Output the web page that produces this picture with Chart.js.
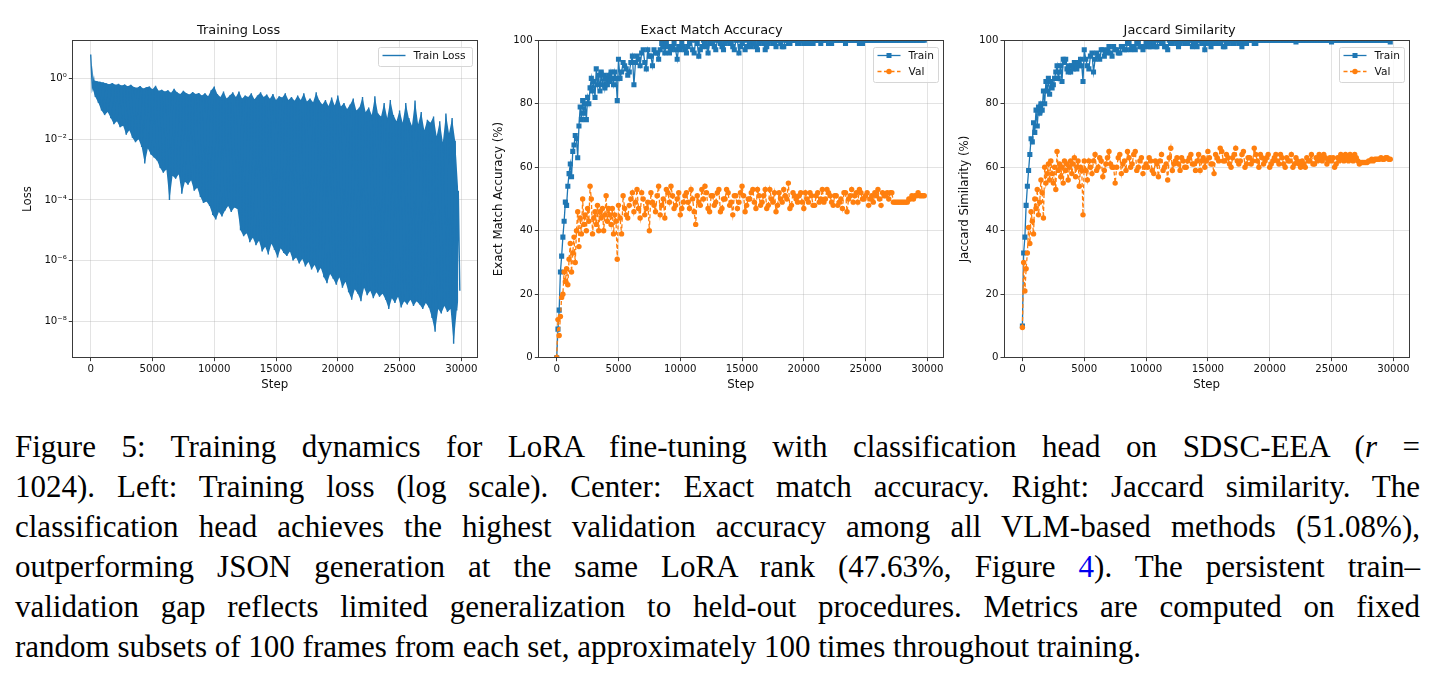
<!DOCTYPE html>
<html>
<head>
<meta charset="utf-8">
<script src="https://cdn.jsdelivr.net/npm/chart.js@4.4.1/dist/chart.umd.min.js"></script>
<style>
  body { margin: 0; width: 1434px; height: 684px; background: #fff; position: relative; overflow: hidden; }
  canvas { position: absolute; }
  #caption { position: absolute; left: 15px; top: 427px; width: 1405px; font-family: "Liberation Serif", serif; font-size: 31px; line-height: 40px; color: #000; }
  #caption .j { text-align: justify; text-align-last: justify; }
  #caption a { color: #0000ee; text-decoration: none; }
</style>
</head>
<body>
<canvas id="lossChart" style="left:0px;top:15px" width="482" height="380"></canvas>
<canvas id="emChart" style="left:480px;top:15px" width="468" height="380"></canvas>
<canvas id="jacChart" style="left:950px;top:15px" width="464" height="380"></canvas>

<div id="caption">
  <div class="j">Figure 5: Training dynamics for LoRA fine-tuning with classification head on SDSC-EEA (<i>r</i> =</div>
  <div class="j">1024). Left: Training loss (log scale). Center: Exact match accuracy. Right: Jaccard similarity. The</div>
  <div class="j">classification head achieves the highest validation accuracy among all VLM-based methods (51.08%),</div>
  <div class="j">outperforming JSON generation at the same LoRA rank (47.63%, Figure <a>4</a>). The persistent train–</div>
  <div class="j">validation gap reflects limited generalization to held-out procedures. Metrics are computed on fixed</div>
  <div>random subsets of 100 frames from each set, approximately 100 times throughout training.</div>
</div>

<script>
const BLUE = "#1f77b4";
const ORANGE = "#ff7f0e";

const stepTicks = [0, 5000, 10000, 15000, 20000, 25000, 30000];
const pctTicks = [0, 20, 40, 60, 80, 100];
const lossTicks = [1e-8, 1e-6, 1e-4, 1e-2, 1];

// training loss, log10 of the upper and lower edge of the noisy band
// (upper edge sampled every 250 steps from 0, lower edge offset by 125)
const lossGap = 250;
const lossHigh = [
  0.80, -0.05, -0.08, -0.10, -0.12, -0.15, -0.18, -0.14, -0.20, -0.17,
  -0.22, -0.19, -0.25, -0.20, -0.27, -0.30, -0.24, -0.32, -0.28, -0.26,
  -0.35, -0.23, -0.40, -0.36, -0.42, -0.38, -0.46, -0.33, -0.45, -0.50,
  -0.40, -0.48, -0.52, -0.44, -0.50, -0.47, -0.55, -0.48, -0.58, -0.38,
  -0.26, -0.50, -0.60, -0.42, -0.65, -0.55, -0.45, -0.60, -0.42, -0.65,
  -0.55, -0.60, -0.48, -0.68, -0.55, -0.45, -0.60, -0.52, -0.66, -0.50,
  -0.70, -0.58, -0.62, -0.48, -0.70, -0.60, -0.73, -0.55, -0.70, -0.48,
  -0.75, -0.65, -0.78, -0.45, -0.72, -0.85, -0.70, -0.90, -0.62, -0.88,
  -0.55, -0.92, -0.80, -1.00, -0.85, -0.65, -1.05, -0.95, -0.60, -1.10,
  -0.95, -1.20, -0.58, -1.15, -1.25, -0.80, -1.30, -0.70, -1.20, -1.40,
  -1.05, -1.45, -0.80, -1.30, -1.55, -0.72, -1.50, -1.10, -1.70, -1.35,
  -1.45, -1.25, -1.90, -1.40, -2.10, -1.15, -1.80, -1.30, -2.05, -3.70
];
const lossLow = [
  -0.30, -0.60, -0.80, -1.05, -1.20, -1.10, -1.30, -1.50, -1.40, -1.60,
  -1.55, -1.85, -1.70, -1.95, -2.10, -2.00, -2.25, -2.80, -2.30, -2.50,
  -2.60, -2.70, -2.95, -3.10, -3.00, -4.00, -3.20, -3.30, -3.15, -3.80,
  -3.40, -3.50, -3.35, -3.70, -3.60, -3.90, -4.10, -4.05, -4.20, -4.50,
  -4.65, -4.40, -4.55, -4.35, -4.20, -4.40, -4.25, -4.30, -5.00, -5.20,
  -5.10, -5.40, -5.25, -5.50, -5.35, -5.70, -5.55, -5.80, -5.45, -5.65,
  -5.90, -5.60, -5.75, -5.85, -5.70, -6.00, -5.90, -6.10, -5.95, -6.20,
  -6.05, -6.30, -6.15, -6.40, -6.25, -6.55, -6.75, -6.45, -6.60, -6.80,
  -6.55, -6.90, -6.70, -7.05, -7.30, -6.95, -7.10, -7.35, -6.90, -7.15,
  -7.00, -7.25, -7.05, -7.20, -7.10, -7.30, -7.60, -7.25, -7.40, -7.20,
  -7.55, -7.35, -7.45, -7.30, -7.50, -7.35, -7.45, -7.60, -7.40, -7.55,
  -7.90, -8.35, -7.60, -7.75, -7.50, -7.70, -7.60, -8.75, -7.65, -7.00
];

// evaluation steps shared by the accuracy plots
const accSteps = [
  0, 100, 200, 300, 400, 500, 600, 700, 800, 900,
  1000, 1100, 1200, 1300, 1400, 1500, 1600, 1700, 1800, 1900,
  2000, 2100, 2200, 2300, 2400, 2500, 2600, 2700, 2800, 2900,
  3000, 3100, 3200, 3300, 3400, 3500, 3600, 3700, 3800, 3900,
  4000, 4100, 4200, 4300, 4400, 4500, 4600, 4700, 4800, 4900, 5000,
  5250, 5500, 5750, 6000, 6250, 6500, 6750, 7000, 7250, 7500,
  7750, 8000, 8250, 8500, 8750, 9000, 9250, 9500, 9750, 10000,
  10250, 10500, 10750, 11000, 11250, 11500, 11750, 12000, 12250, 12500,
  12750, 13000, 13250, 13500, 13750, 14000, 14250, 14500, 14750, 15000,
  15250, 15500, 15750, 16000, 16250, 16500, 16750, 17000, 17250, 17500,
  17750, 18000, 18250, 18500, 18750, 19000, 19250, 19500, 19750, 20000,
  20250, 20500, 20750, 21000, 21250, 21500, 21750, 22000, 22250, 22500,
  22750, 23000, 23250, 23500, 23750, 24000, 24250, 24500, 24750, 25000,
  25250, 25500, 25750, 26000, 26250, 26500, 26750, 27000, 27250, 27500,
  27750, 28000, 28250, 28500, 28750, 29000, 29250, 29500, 29750
];
// in-between evaluations after step 5000
const midSteps = [
  5125, 5375, 5625, 5875, 6125, 6375, 6625, 6875, 7125, 7375,
  7625, 7875, 8125, 8375, 8625, 8875, 9125, 9375, 9625, 9875,
  10125, 10375, 10625, 10875, 11125, 11375, 11625, 11875, 12125, 12375,
  12625, 12875, 13125, 13375, 13625, 13875, 14125, 14375, 14625, 14875,
  15125, 15375, 15625, 15875, 16125, 16375, 16625, 16875, 17125, 17375,
  17625, 17875, 18125, 18375, 18625, 18875, 19125, 19375, 19625, 19875,
  20125, 20375, 20625, 20875, 21125, 21375, 21625, 21875, 22125, 22375,
  22625, 22875, 23125, 23375, 23625, 23875, 24125, 24375, 24625, 24875,
  25125, 25375, 25625, 25875, 26125, 26375, 26625, 26875, 27125, 27375,
  27625, 27875, 28125, 28375, 28625, 28875, 29125, 29375, 29625
];

const emTrain = [
  0, 9, 15, 27, 32, 38, 43, 49, 48, 54,
  58, 61, 57, 65, 67, 70, 69, 63, 73, 79,
  75, 81, 77, 80, 75, 82, 80, 85, 88, 84,
  87, 82, 91, 86, 89, 84, 90, 86, 89, 85,
  88, 86, 89, 87, 90, 88, 86, 90, 88, 81, 94,
  90, 92, 89, 93, 86, 95, 92, 97, 91, 95,
  92, 96, 94, 99, 96, 98, 97, 99, 94, 97,
  98, 96, 99, 97, 100, 95, 98, 99, 96, 99,
  98, 100, 99, 97, 100, 99, 98, 100, 96, 99,
  97, 100, 98, 99, 97, 100, 99, 98, 100, 99,
  98, 100, 98, 100, 99, 100, 100, 99, 100, 99,
  100, 100, 99, 100, 100, 100, 100, 99, 99, 100,
  100, 100, 100, 100, 100, 100, 100, 99, 99, 100,
  100, 100, 100, 100, 100, 100, 100, 100, 100, 100,
  100, 100, 100, 100, 100, 100, 100, 100, 100
];
const emTrainMid = [
  88, 93, 91, 90, 95, 93, 94, 96, 93, 97,
  95, 97, 96, 97, 98, 99, 96, 98, 97, 98,
  99, 97, 98, 100, 96, 99, 97, 100, 98, 99,
  99, 97, 100, 98, 99, 100, 99, 97, 100, 98,
  100, 98, 99, 100, 98, 99, 100, 97, 99, 100,
  99, 100, 99, 98, 100, 99, 100, 100, 99, 100,
  100, 99, 100, 100, 100, 99, 100, 100, 100, 100,
  100, 100, 100, 99, 100, 100, 100, 100, 100, 100,
  100, 100, 100, 100, 100, 100, 100, 100, 100, 100,
  100, 100, 100, 100, 100, 100, 100, 100, 100
];
const emVal = [
  0, 12, 7, 13, 19, 20, 27, 24, 28, 23,
  31, 36, 27, 33, 38, 30, 40, 46, 35, 44,
  39, 50, 42, 45, 40, 47, 43, 54, 50, 39,
  44, 46, 42, 48, 40, 46, 44, 47, 40, 45,
  51, 43, 47, 45, 42, 47, 39, 45, 43, 31, 48,
  39, 47, 44, 50, 46, 53, 44, 50, 47, 40,
  49, 46, 54, 48, 44, 52, 54, 47, 50, 45,
  49, 52, 47, 50, 42, 49, 53, 54, 47, 51,
  48, 52, 46, 50, 53, 48, 45, 51, 49, 54,
  46, 50, 52, 49, 53, 48, 51, 47, 53, 49,
  46, 52, 49, 51, 55, 48, 51, 49, 52, 47,
  50, 52, 48, 51, 49, 53, 50, 52, 49, 51,
  48, 50, 52, 46, 51, 49, 52, 53, 50, 51,
  48, 51, 52, 53, 48, 51, 52, 52, 49, 49,
  49, 49, 49, 50, 51, 51, 52, 51, 51
];
const emValMid = [
  44, 51, 45, 48, 52, 49, 47, 52, 45, 49,
  52, 48, 51, 45, 50, 53, 49, 51, 48, 52,
  47, 51, 49, 53, 46, 51, 48, 50, 52, 46,
  51, 49, 53, 47, 50, 52, 49, 51, 47, 52,
  51, 48, 50, 53, 47, 51, 49, 53, 48, 50,
  52, 48, 50, 53, 50, 47, 52, 50, 51, 49,
  52, 49, 51, 48, 52, 50, 49, 53, 51, 48,
  51, 49, 47, 52, 50, 53, 51, 49, 52, 50,
  52, 50, 49, 51, 50, 52, 51, 50, 52, 49,
  49, 49, 49, 49, 50, 50, 51, 51, 51
];
const jacTrain = [
  10, 33, 38, 48, 54, 59, 64, 69, 68, 74,
  71, 78, 73, 79, 77, 80, 78, 84, 80, 87,
  84, 88, 83, 87, 85, 86, 88, 90, 92, 88,
  90, 92, 87, 94, 93, 94, 91, 90, 92, 90,
  92, 91, 93, 92, 91, 93, 92, 94, 92, 87, 97,
  92, 95, 90, 96, 94, 97, 96, 98, 95, 97,
  96, 98, 97, 99, 97, 98, 99, 98, 97, 99,
  98, 99, 98, 100, 99, 98, 97, 99, 100, 99,
  99, 100, 99, 100, 98, 99, 100, 99, 97, 99,
  98, 100, 99, 99, 98, 99, 100, 99, 100, 99,
  98, 99, 100, 100, 99, 100, 100, 100, 100, 100,
  100, 100, 100, 100, 100, 100, 100, 100, 100, 100,
  100, 100, 100, 100, 100, 100, 100, 100, 100, 99.5,
  100, 100, 100, 100, 100, 100, 100, 100, 100, 100,
  100, 100, 100, 100, 100, 100, 100, 100, 99.5
];
const jacTrainMid = [
  94, 91, 96, 94, 95, 97, 95, 97, 96, 98,
  97, 96, 98, 97, 99, 98, 97, 99, 98, 98,
  99, 98, 99, 98, 100, 99, 98, 100, 99, 100,
  98, 100, 99, 99, 100, 99, 98, 100, 99, 100,
  99, 99, 100, 99, 100, 98, 99, 100, 99, 100,
  99, 100, 99, 100, 100, 99, 100, 100, 100, 100,
  100, 100, 100, 100, 100, 100, 100, 100, 99.5, 100,
  100, 100, 100, 100, 100, 100, 100, 100, 100, 100,
  100, 100, 100, 100, 100, 100, 100, 100, 100, 100,
  100, 100, 100, 100, 100, 100, 100, 100, 100
];
const jacVal = [
  9.5, 30, 21, 28, 33, 41, 36, 46, 43, 39,
  50, 47, 53, 45, 49, 56, 52, 44, 60, 55,
  58, 61, 56, 62, 58, 55, 60, 53, 65, 59,
  61, 57, 60, 55, 62, 59, 61, 56, 60, 62,
  58, 61, 63, 57, 60, 62, 54, 60, 59, 45, 62,
  56, 60, 62, 59, 63, 57, 61, 65, 60, 55,
  63, 58, 62, 65, 60, 64, 59, 62, 58, 61,
  63, 59, 62, 57, 64, 60, 56, 66, 61, 63,
  59, 62, 60, 63, 61, 59, 64, 62, 60, 65,
  61, 58, 63, 66, 62, 64, 61, 63, 66, 61,
  64, 60, 63, 61, 66, 62, 64, 61, 63, 60,
  62, 64, 61, 63, 60, 62, 64, 61, 62, 60,
  61, 63, 62, 61, 63, 64, 62, 63, 62, 62,
  60, 63, 64, 62, 63, 64, 62, 63, 61, 61.5,
  61.5, 62, 62.5, 62.5, 62.5, 63, 62.5, 63, 62.5
];
const jacValMid = [
  59, 62, 58, 64, 60, 62, 59, 63, 61, 60,
  60, 64, 61, 59, 63, 61, 65, 60, 63, 60,
  60, 62, 58, 61, 62, 59, 61, 63, 59, 62,
  61, 63, 60, 62, 64, 61, 62, 59, 63, 62,
  63, 61, 64, 62, 65, 62, 63, 60, 64, 62,
  62, 65, 61, 63, 62, 64, 60, 63, 62, 64,
  61, 63, 62, 64, 61, 63, 62, 60, 63, 61,
  62, 60, 62, 64, 61, 62, 63, 64, 61, 63,
  63, 61, 62, 63, 64, 62, 63, 64, 62, 61.5,
  61.5, 61.5, 62, 62, 62.5, 62.5, 62.5, 63, 62.5
];

const FONT = "'DejaVu Sans', sans-serif";
const INK = "#111";
const SPINE = "#3a3a3a";
const GRID = "rgba(176,176,176,0.35)";
const TICK_SIZE = 10.2;
const LABEL_SIZE = 11.8;

// zigzag through the upper and lower edges of the loss band
const lossPoints = [];
const lossTop = [];
const lossBottom = [];
lossHigh.forEach((h, i) => {
  const hi = { x: i * lossGap, y: Math.pow(10, h) };
  const lo = { x: i * lossGap + lossGap / 2, y: Math.pow(10, lossLow[i]) };
  lossPoints.push(hi, lo);
  lossTop.push(hi);
  lossBottom.push(lo);
});

const toXY = (vals, mid) => accSteps.map((s, i) => ({ x: s, y: vals[i] }))
  .concat(midSteps.map((s, i) => ({ x: s, y: mid[i] })))
  .sort((a, b) => a.x - b.x);

const sup = { "-": "⁻", "0": "⁰", "1": "¹", "2": "²", "4": "⁴", "6": "⁶", "8": "⁸" };

// matplotlib-like frame round the plot area
const frame = {
  id: "frame",
  afterDatasetsDraw(chart) {
    const { ctx, chartArea: a } = chart;
    ctx.save();
    ctx.strokeStyle = SPINE;
    ctx.lineWidth = 1;
    ctx.strokeRect(Math.round(a.left) + 0.5, Math.round(a.top) + 0.5, Math.round(a.right - a.left), Math.round(a.bottom - a.top));
    ctx.restore();
  },
};

// legend box in the upper right corner of the plot
const boxLegend = {
  id: "boxLegend",
  afterDraw(chart, args, opts) {
    const { ctx, chartArea } = chart;
    const items = chart.data.datasets.filter((d) => d.label);
    const x0 = Math.round(chartArea.right - 5 - opts.width) + 0.5;
    const y0 = Math.round(chartArea.top + 7) + 0.5;
    const h = items.length * 16 + 3;
    ctx.save();
    ctx.fillStyle = "rgba(255,255,255,0.8)";
    ctx.strokeStyle = "#d6d6d6";
    ctx.lineWidth = 1;
    ctx.beginPath();
    ctx.roundRect(x0, y0, opts.width, h, 2);
    ctx.fill();
    ctx.stroke();
    items.forEach((d, i) => {
      const y = y0 + 8 + i * 16;
      ctx.strokeStyle = d.borderColor;
      ctx.lineWidth = d.borderWidth;
      ctx.setLineDash(d.borderDash || []);
      ctx.beginPath();
      ctx.moveTo(x0 + 4, y);
      ctx.lineTo(x0 + 27, y);
      ctx.stroke();
      ctx.setLineDash([]);
      ctx.fillStyle = d.borderColor;
      if (d.pointStyle === "rect") {
        ctx.fillRect(x0 + 15.5 - 2.5, y - 2.5, 5, 5);
      } else if (d.pointStyle === "circle") {
        ctx.beginPath();
        ctx.arc(x0 + 15.5, y, 2.7, 0, Math.PI * 2);
        ctx.fill();
      }
      ctx.fillStyle = INK;
      ctx.font = "10.6px " + FONT;
      ctx.textBaseline = "middle";
      ctx.fillText(d.label, x0 + 35, y + 0.5);
    });
    ctx.restore();
  },
};

function stepAxis() {
  return {
    type: "linear",
    min: -1490,
    max: 31290,
    afterBuildTicks: (s) => { s.ticks = stepTicks.map((v) => ({ value: v })); },
    afterFit: (s) => { s.height = 37.3; },
    ticks: { color: INK, font: { family: FONT, size: TICK_SIZE }, padding: 2, maxRotation: 0, autoSkip: false, callback: (v) => String(v) },
    grid: { color: GRID, tickColor: SPINE, tickLength: 3.5, lineWidth: 1 },
    border: { display: false },
    title: { display: true, text: "Step", color: INK, font: { family: FONT, size: LABEL_SIZE }, padding: { top: 0, bottom: 2.9 } },
  };
}

function yTitle(text, offset) {
  return { display: true, text: text, color: INK, font: { family: FONT, size: LABEL_SIZE }, padding: { top: offset, bottom: 0 } };
}

function baseOptions(title, legendWidth) {
  return {
    responsive: false,
    animation: false,
    events: [],
    layout: { padding: { left: 0, right: 4.7, top: 0, bottom: 0 } },
    plugins: {
      legend: { display: false },
      tooltip: { enabled: false },
      title: { display: true, text: title, color: INK, font: { family: FONT, size: 12.9, weight: "normal" }, padding: { top: 8, bottom: 1.8 } },
      boxLegend: { width: legendWidth },
    },
  };
}

// Training loss
const lossOpts = baseOptions("Training Loss", 94);
lossOpts.scales = {
  x: stepAxis(),
  y: {
    type: "logarithmic",
    min: Math.pow(10, -9.21),
    max: Math.pow(10, 1.27),
    afterBuildTicks: (s) => { s.ticks = lossTicks.map((v) => ({ value: v })); },
    afterFit: (s) => { s.width = 72.3; },
    ticks: {
      color: INK, font: { family: FONT, size: TICK_SIZE }, padding: 2, autoSkip: false,
      callback: (v) => "10" + String(Math.round(Math.log10(v))).split("").map((c) => sup[c]).join(""),
    },
    grid: { color: GRID, tickColor: SPINE, tickLength: 3.5, lineWidth: 1 },
    border: { display: false },
    title: yTitle("Loss", 20.9),
  },
};
new Chart(document.getElementById("lossChart"), {
  type: "line",
  data: {
    datasets: [
      {
        label: "Train Loss",
        data: lossPoints,
        borderColor: BLUE,
        borderWidth: 1.4,
        pointRadius: 0,
        tension: 0,
        fill: false,
        order: 0,
      },
      {
        data: lossTop,
        borderWidth: 0,
        backgroundColor: BLUE,
        pointRadius: 0,
        tension: 0,
        fill: "+1",
        order: 1,
      },
      {
        data: lossBottom,
        borderWidth: 0,
        pointRadius: 0,
        tension: 0,
        fill: false,
        order: 2,
      },
    ],
  },
  options: lossOpts,
  plugins: [frame, boxLegend],
});

function accChart(id, title, yLabel, yWidth, yOffset, train, val) {
  const opts = baseOptions(title, 65);
  opts.scales = {
    x: stepAxis(),
    y: {
      type: "linear",
      min: 0,
      max: 100,
      afterBuildTicks: (s) => { s.ticks = pctTicks.map((v) => ({ value: v })); },
      afterFit: (s) => { s.width = yWidth; },
      ticks: { color: INK, font: { family: FONT, size: TICK_SIZE }, padding: 2, autoSkip: false },
      grid: { color: GRID, tickColor: SPINE, tickLength: 3.5, lineWidth: 1 },
      border: { display: false },
      title: yTitle(yLabel, yOffset),
    },
  };
  new Chart(document.getElementById(id), {
    type: "line",
    data: {
      datasets: [
        {
          label: "Train",
          data: train,
          borderColor: BLUE,
          backgroundColor: BLUE,
          borderWidth: 1.3,
          pointStyle: "rect",
          pointRadius: 3.6,
          pointBorderWidth: 0,
          tension: 0,
          order: 1,
        },
        {
          label: "Val",
          data: val,
          borderColor: ORANGE,
          backgroundColor: ORANGE,
          borderWidth: 1.3,
          borderDash: [4, 2.5],
          pointStyle: "circle",
          pointRadius: 2.7,
          pointBorderWidth: 0,
          tension: 0,
          order: 0,
        },
      ],
    },
    options: opts,
    plugins: [frame, boxLegend],
  });
}

accChart("emChart", "Exact Match Accuracy", "Exact Match Accuracy (%)", 58.3, 11.9,
  toXY(emTrain, emTrainMid), toXY(emVal, emValMid));
accChart("jacChart", "Jaccard Similarity", "Jaccard Similarity (%)", 54, 7.9,
  toXY(jacTrain, jacTrainMid), toXY(jacVal, jacValMid));
</script>
</body>
</html>
